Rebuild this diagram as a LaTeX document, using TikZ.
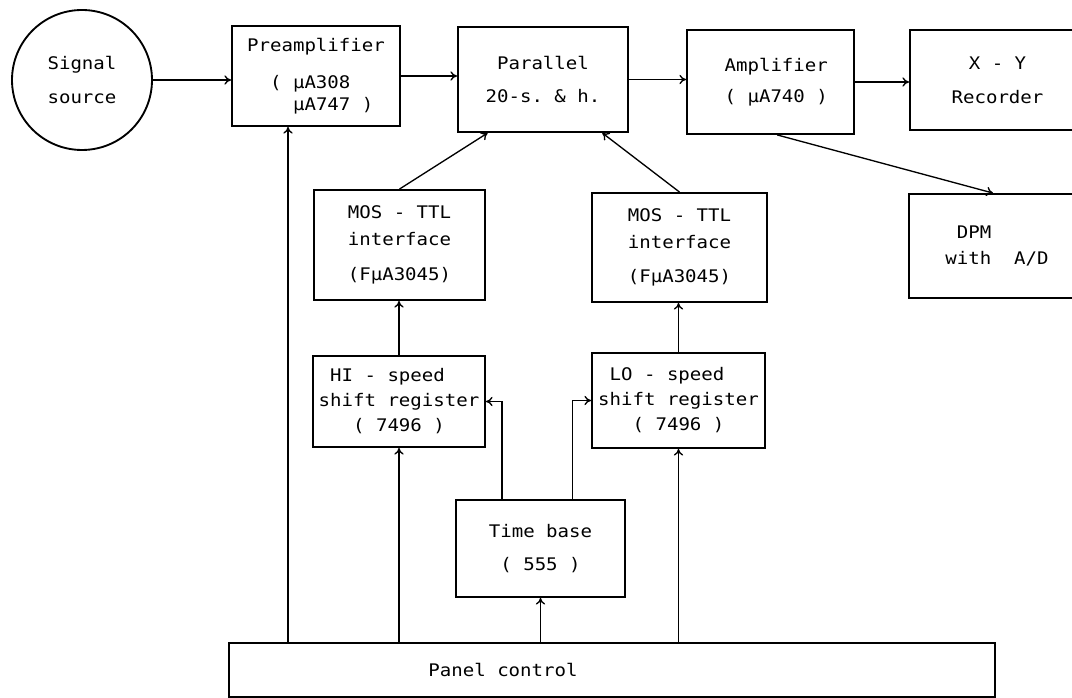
\documentclass[tikz,border=0pt]{standalone}
\usepackage{fontspec}
\newfontfamily\diagfont[FakeStretch=1.1]{DejaVu Sans Mono}
\usetikzlibrary{arrows.meta}
\begin{document}
\begin{tikzpicture}[x=0.75pt, y=-0.75pt, font=\diagfont\fontsize{13}{16}\selectfont,
  blk/.style={draw, line width=1.4pt, align=center, inner sep=2pt},
  con/.style={line width=1pt, -{To[length=5pt, width=7pt]}}]
  \useasboundingbox (0,0) rectangle (1072,698);
  % signal path
  \node[blk, circle, minimum size=105pt] (sig) at (82,80) {Signal\\[10pt]source};
  \node[blk, align=left, minimum width=126pt, minimum height=75pt] (pre) at (316,76) {Preamplifier\\[12pt]~~(~µA308\\~~~~µA747~)};
  \node[blk, minimum width=127.5pt, minimum height=78.75pt] (par) at (543,79.5) {Parallel\\[9pt]20-s.~\&~h.};
  \node[blk, minimum width=125.25pt, minimum height=78pt] (amp) at (770.5,82) {~Amplifier\\[7pt]~(~µA740~)};
  \node[blk, minimum width=131.25pt, minimum height=75pt] (xy) at (997.5,80) {X~-~Y\\[9.5pt]Recorder};
  \node[blk, align=left, minimum width=132pt, minimum height=78pt] (dpm) at (997,246) {~DPM\\[3.5pt]with~~A/D};
  % interfaces and registers
  \node[blk, minimum width=128.25pt, minimum height=82.5pt] (mosl) at (399.5,245) {MOS~-~TTL\\[4pt]interface\\[10pt](FµA3045)};
  \node[blk, minimum width=131.25pt, minimum height=81.75pt] (mosr) at (679.5,247.5) {MOS~-~TTL\\[4pt]interface\\[10pt](FµA3045)};
  \node[blk, align=left, minimum width=129pt, minimum height=68.25pt] (hi) at (399,401.5) {~HI~-~speed\\[2.75pt]shift~register\\[2.75pt]~~~(~7496~)};
  \node[blk, align=left, minimum width=129.75pt, minimum height=71.25pt] (lo) at (678.5,400.5) {~LO~-~speed\\[2.75pt]shift~register\\[2.75pt]~~~(~7496~)};
  \node[blk, minimum width=126.75pt, minimum height=72.75pt] (tb) at (540.5,548.5) {Time~base\\[9pt](~555~)};
  \node[blk, minimum width=574.5pt, minimum height=40.5pt] (pan) at (612,670) {Panel~control\hspace*{163.5pt}};
  % connectors
  \draw[con] (sig.east) -- (sig.east -| pre.west);
  \draw[con] (pre.east) -- (pre.east -| par.west);
  \draw[con] (par.east) -- (par.east -| amp.west);
  \draw[con] (amp.east) -- (amp.east -| xy.west);
  \draw[con] ([xshift=5pt]amp.south) -- ([xshift=-3pt]dpm.north);
  \draw[con] (mosl.north) -- ([xshift=23pt]par.south west);
  \draw[con] (mosr.north) -- ([xshift=-20pt]par.south east);
  \draw[con] (hi.north) -- (hi.north |- mosl.south);
  \draw[con] (lo.north) -- (lo.north |- mosr.south);
  \draw[con] ([xshift=-29pt]tb.north) |- (hi.east);
  \draw[con] ([xshift=24pt]tb.north) |- (lo.west);
  \draw[con] ([xshift=-21pt]pre.south |- pan.north) -- ([xshift=-21pt]pre.south);
  \draw[con] (hi.south |- pan.north) -- (hi.south);
  \draw[con] (tb.south |- pan.north) -- (tb.south);
  \draw[con] (lo.south |- pan.north) -- (lo.south);
\end{tikzpicture}
\end{document}
